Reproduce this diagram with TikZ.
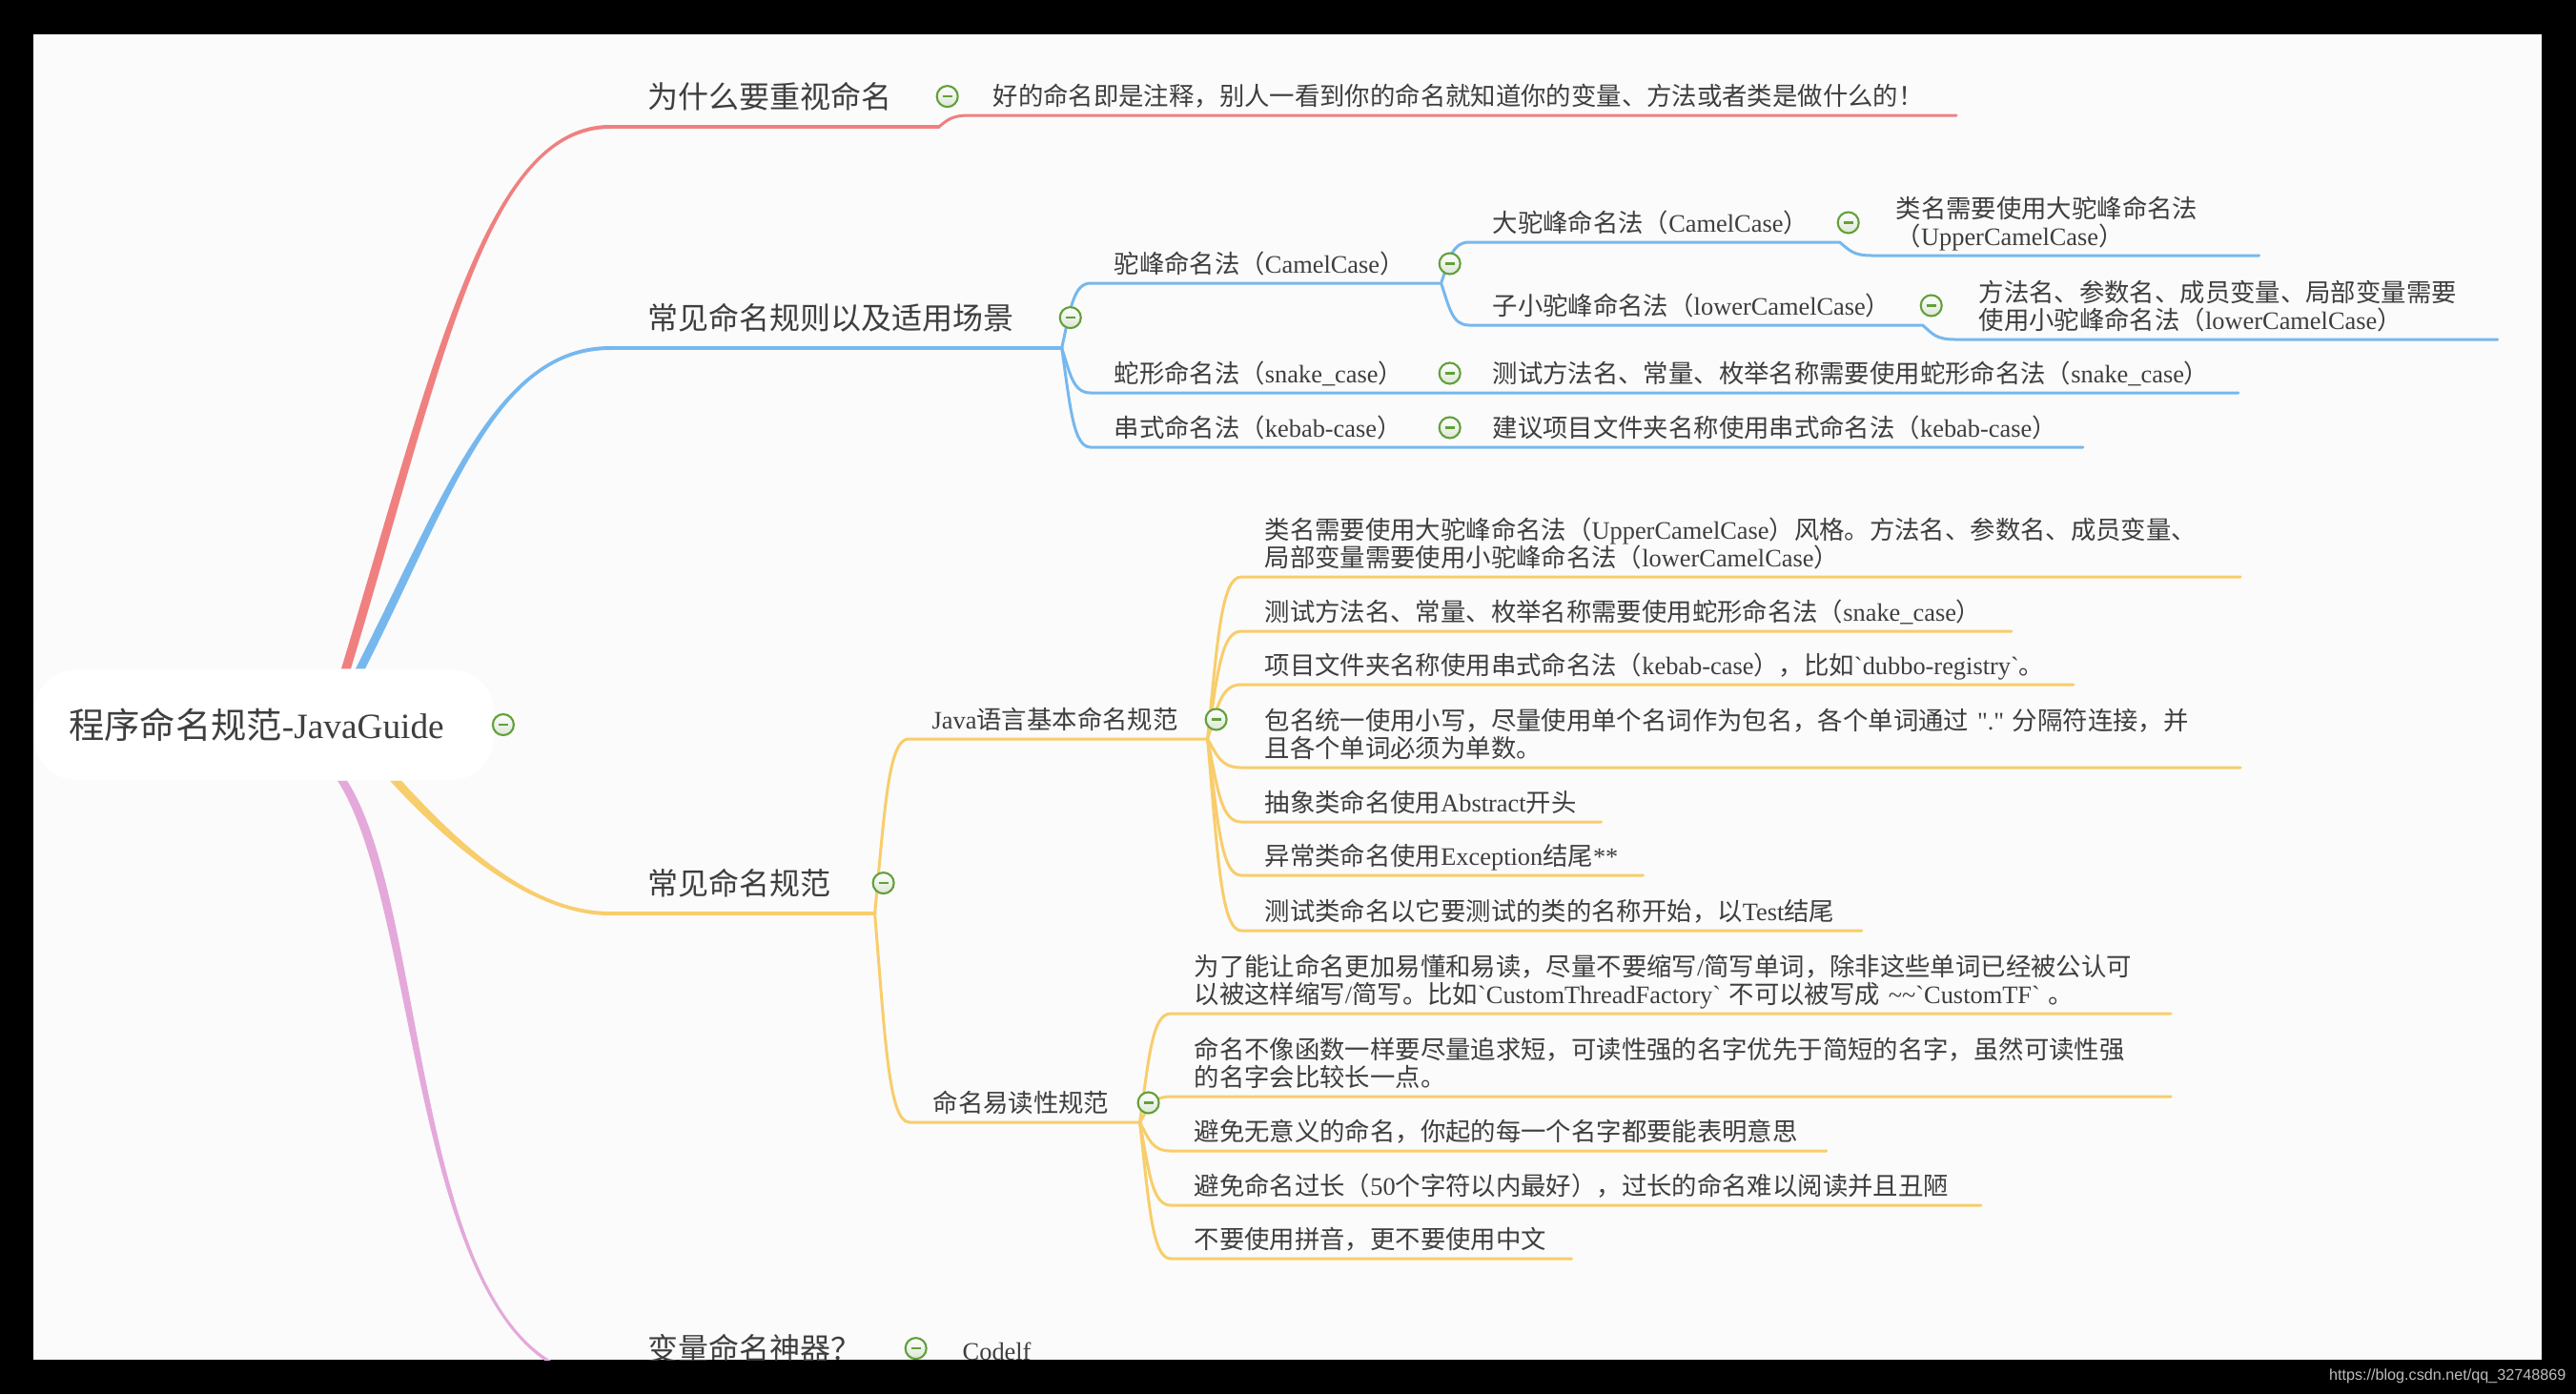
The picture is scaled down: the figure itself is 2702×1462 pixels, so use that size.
\documentclass[tikz,border=0pt]{standalone}
\usepackage{fontspec}
\setmainfont{Noto Sans CJK SC}
\newfontfamily\latinfont{Liberation Serif}
\newfontfamily\markfont{Liberation Sans}
\usepackage{xcolor}
\usepackage{tikz}
\usetikzlibrary{positioning, calc}
\definecolor{redbr}{HTML}{F08080}
\definecolor{bluebr}{HTML}{76B8EE}
\definecolor{yellowbr}{HTML}{F8CD6B}
\definecolor{pinkbr}{HTML}{E4A9DA}
\definecolor{foldgreen}{HTML}{62A03A}
\definecolor{foldfill}{HTML}{DCE6D6}
\definecolor{pagebg}{HTML}{FBFBFB}
\definecolor{inkgray}{HTML}{3E3E3E}
\definecolor{markgray}{HTML}{BDBDBD}

\newcommand{\ltn}[1]{{\latinfont #1}}
\newcommand{\lstrut}{\rule[-0.22em]{0pt}{1.2em}}
% tapered main branch: colour, start, control 1, control 2, end, half width at start
\newcommand{\mainline}[6]{%
  \fill[#1] ($#2+({0-(#6)},0)$) .. controls ($#3+({0-(#6)},0)$) and ($#4+(0,-2)$) .. ($#5+(0,-2)$)
    -- ($#5+(0,2)$) .. controls ($#4+(0,2)$) and ($#3+(#6,0)$) .. ($#2+(#6,0)$) -- cycle;}

\tikzset{
  topic/.style={anchor=south west, align=left, text=inkgray, inner xsep=0.39cm, inner ysep=0.12cm,
    font=\fontsize{9.1}{11}\selectfont, execute at begin node=\lstrut, execute at end node=\lstrut},
  item/.style={anchor=south west, align=left, text=inkgray, inner xsep=0.24cm, inner ysep=0.04cm,
    font={\fontsize{7.5}{8.25}\selectfont\lineskiplimit=-20pt},
    execute at begin node=\lstrut, execute at end node=\lstrut},
  fold/.style={circle, draw=foldgreen, line width=0.6pt, minimum size=0.22cm, inner sep=0pt,
    top color=white, bottom color=foldfill,
    path picture={\draw[foldgreen, line width=0.6pt] ([xshift=-0.05cm]path picture bounding box.center)
      -- ([xshift=0.05cm]path picture bounding box.center);}},
  twig/.style={line width=0.03cm, line cap=round, line join=round},
  trunk/.style={line width=0.04cm, line cap=round},
  kid/.style={to path={let \p1=(\tikztostart), \p2=(\tikztotarget) in
    .. controls ({\x1+0.3*(\x2-\x1)},{\y1+0.6*(\y2-\y1)}) and ({\x1+0.4*(\x2-\x1)},\y2) .. (\tikztotarget) \tikztonodes}},
}

\begin{document}
\begin{tikzpicture}[x=0.01cm, y=-0.01cm]
  \useasboundingbox (0,0) rectangle (2702,1462);
  \fill[black] (0,0) rectangle (2702,1462);
  \fill[pagebg] (35,36) rectangle (2666,1426);
  \node[anchor=east, inner sep=0pt, text=markgray, font=\markfont\fontsize{4.6}{5.5}\selectfont] (credit)
    at (2692,1443) {https://blog.csdn.net/qq\_32748869};

  \begin{scope}
    \clip (35,36) rectangle (2666,1426);
    \node[fill=white, rounded corners=0.45cm, minimum width=4.82cm, minimum height=1.16cm,
      text=inkgray, font=\fontsize{10.6}{13}\selectfont] (root) at (277,760) {\hspace*{-0.16cm}程序命名规范\ltn{-JavaGuide}};

    % first level
    \node[topic, text width=2.65cm] (why) at (640,133) {为什么要重视命名};
    \node[topic, text width=3.94cm] (rule) at (640,365) {常见命名规则以及适用场景};
    \node[topic, text width=1.98cm] (norm) at (640,958) {常见命名规范};
    \node[topic, text width=2.32cm] (tool) at (640,1446) {变量命名神器？};

    % why
    \node[item, text width=9.85cm] (good) at (1017,121) {好的命名即是注释，别人一看到你的命名就知道你的变量、方法或者类是做什么的！};

    % rule
    \node[item, text width=3.18cm] (camel) at (1144,297) {驼峰命名法（\ltn{CamelCase}）};
    \node[item, text width=3.39cm] (upper) at (1541,254) {大驼峰命名法（\ltn{CamelCase}）};
    \node[item, text width=3.56cm] (upperleaf) at (1964,268) {类名需要使用大驼峰命名法\\（\ltn{UpperCamelCase}）};
    \node[item, text width=4.26cm] (lower) at (1541,341) {子小驼峰命名法（\ltn{lowerCamelCase}）};
    \node[item, text width=5.19cm] (lowerleaf) at (2051,356) {方法名、参数名、成员变量、局部变量需要\\使用小驼峰命名法（\ltn{lowerCamelCase}）};
    \node[item, text width=3.18cm] (snake) at (1144,412) {蛇形命名法（\ltn{snake\_case}）};
    \node[item, text width=7.57cm] (snakeleaf) at (1541,412) {测试方法名、常量、枚举名称需要使用蛇形命名法（\ltn{snake\_case}）};
    \node[item, text width=3.18cm] (kebab) at (1144,469) {串式命名法（\ltn{kebab-case}）};
    \node[item, text width=5.94cm] (kebableaf) at (1541,469) {建议项目文件夹名称使用串式命名法（\ltn{kebab-case}）};

    % norm
    \node[item, text width=2.64cm] (java) at (953,775) {\ltn{Java}语言基本命名规范};
    \node[item, text width=1.92cm] (read) at (954,1177) {命名易读性规范};
    \node[item, text width=9.98cm] (j1) at (1302,605) {类名需要使用大驼峰命名法（\ltn{UpperCamelCase}）风格。方法名、参数名、成员变量、\\局部变量需要使用小驼峰命名法（\ltn{lowerCamelCase}）};
    \node[item, text width=7.58cm] (j2) at (1302,662) {测试方法名、常量、枚举名称需要使用蛇形命名法（\ltn{snake\_case}）};
    \node[item, text width=8.23cm] (j3) at (1302,718) {项目文件夹名称使用串式命名法（\ltn{kebab-case}），比如\ltn{`dubbo-registry`}。};
    \node[item, text width=9.98cm] (j4) at (1302,805) {包名统一使用小写，尽量使用单个名词作为包名，各个单词通过 \ltn{"."} 分隔符连接，并\\且各个单词必须为单数。};
    \node[item, text width=3.28cm] (j5) at (1302,862) {抽象类命名使用\ltn{Abstract}开头};
    \node[item, text width=3.72cm] (j6) at (1302,918) {异常类命名使用\ltn{Exception}结尾\ltn{**}};
    \node[item, text width=6.01cm] (j7) at (1302,976) {测试类命名以它要测试的类的名称开始，以\ltn{Test}结尾};
    \node[item, text width=9.99cm] (r1) at (1228,1063) {为了能让命名更加易懂和易读，尽量不要缩写\ltn{/}简写单词，除非这些单词已经被公认可\\以被这样缩写\ltn{/}简写。比如\ltn{`CustomThreadFactory`} 不可以被写成 \ltn{\textasciitilde\textasciitilde`CustomTF`} 。};
    \node[item, text width=9.99cm] (r2) at (1228,1150) {命名不像函数一样要尽量追求短，可读性强的名字优先于简短的名字，虽然可读性强\\的名字会比较长一点。};
    \node[item, text width=6.38cm] (r3) at (1228,1207) {避免无意义的命名，你起的每一个名字都要能表明意思};
    \node[item, text width=8.00cm] (r4) at (1228,1264) {避免命名过长（\ltn{50}个字符以内最好），过长的命名难以阅读并且丑陋};
    \node[item, text width=3.71cm] (r5) at (1228,1320) {不要使用拼音，更不要使用中文};

    % tool
    \node[item, text width=0.97cm] (codelf) at (985,1437) {\ltn{Codelf}};

    % main branches
    \mainline{redbr}{(root.north)+(86,0)}{(460,380)}{(510,133)}{(why.south west)}{5}
    \mainline{bluebr}{(root.north)+(101,0)}{(470,520)}{(520,365)}{(rule.south west)}{5}
    \mainline{yellowbr}{(root.south)+(138,0)}{(480,890)}{(560,958)}{(norm.south west)}{-6}
    \mainline{pinkbr}{(root.south)+(82,0)}{(450,960)}{(430,1446)}{(tool.south west)}{-5}
    \draw[trunk, redbr] (why.south west) -- (why.south east);
    \draw[trunk, bluebr] (rule.south west) -- (rule.south east);
    \draw[trunk, yellowbr] (norm.south west) -- (norm.south east);
    \draw[trunk, pinkbr] (tool.south west) -- (tool.south east);

    \draw[twig, redbr] (why.south east) to[kid] (good.south west) -- (good.south east);

    \draw[twig, bluebr] (rule.south east) to[kid] (camel.south west) -- (camel.south east);
    \draw[twig, bluebr] (camel.south east) to[kid] (upper.south west) -- (upper.south east)
      to[kid] (upperleaf.south west) -- (upperleaf.south east);
    \draw[twig, bluebr] (camel.south east) to[kid] (lower.south west) -- (lower.south east)
      to[kid] (lowerleaf.south west) -- (lowerleaf.south east);
    \draw[twig, bluebr] (rule.south east) to[kid] (snake.south west) -- (snake.south east)
      to[kid] (snakeleaf.south west) -- (snakeleaf.south east);
    \draw[twig, bluebr] (rule.south east) to[kid] (kebab.south west) -- (kebab.south east)
      to[kid] (kebableaf.south west) -- (kebableaf.south east);

    \draw[twig, yellowbr] (norm.south east) to[kid] (java.south west) -- (java.south east);
    \draw[twig, yellowbr] (norm.south east) to[kid] (read.south west) -- (read.south east);
    \foreach \leaf in {j1,j2,j3,j4,j5,j6,j7}
      \draw[twig, yellowbr] (java.south east) to[kid] (\leaf.south west) -- (\leaf.south east);
    \foreach \leaf in {r1,r2,r3,r4,r5}
      \draw[twig, yellowbr] (read.south east) to[kid] (\leaf.south west) -- (\leaf.south east);

    \draw[twig, pinkbr] (tool.south east) to[kid] (codelf.south west) -- (codelf.south east);

    % fold buttons
    \node[fold, right=-0.03cm of root] {};
    \foreach \topic in {why,rule,norm,tool,camel,upper,lower,snake,kebab,java,read}
      \node[fold, right=-0.03cm of \topic] {};
  \end{scope}
\end{tikzpicture}
\end{document}
